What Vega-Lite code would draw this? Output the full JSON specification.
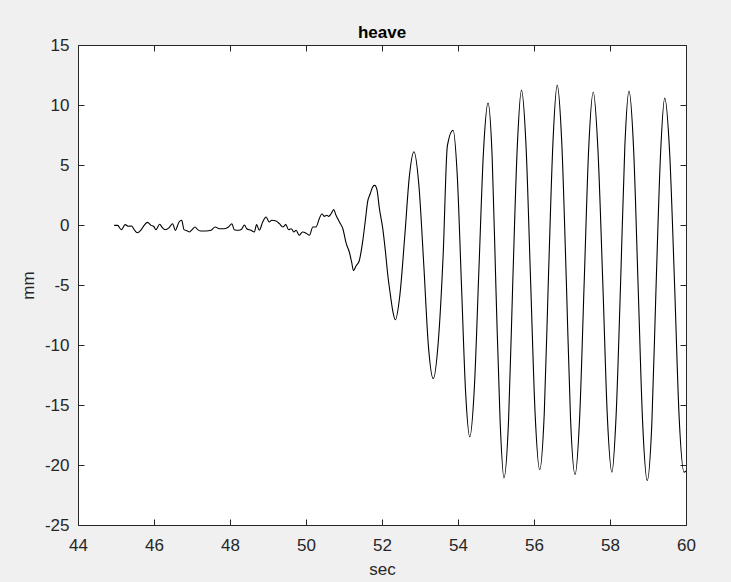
{
  "$schema": "https://vega.github.io/schema/vega-lite/v6.json",
  "width": 608,
  "height": 480,
  "autosize": {"type": "none"},
  "padding": {"left": 78, "top": 45, "right": 45, "bottom": 57},
  "background": "#f0f0f0",
  "title": {"text": "heave", "font": "Liberation Sans", "fontSize": 17, "fontWeight": "bold", "color": "#000000", "anchor": "middle", "offset": -6},
  "config": {
    "view": {"fill": "white", "stroke": "#262626", "strokeWidth": 1},
    "axis": {"labelFont": "Liberation Sans", "labelFontSize": 17, "labelColor": "#262626", "labelFlush": false, "labelOverlap": false, "titleFont": "Liberation Sans", "titleFontSize": 17, "titleFontWeight": "normal", "titleColor": "#262626", "tickColor": "#262626", "domainColor": "#262626", "grid": false, "tickSize": -6, "domain": false}
  },
  "data": {"values": [
    {"t": 44.95, "v": -0.03}, {"t": 45.04, "v": -0.03}, {"t": 45.14, "v": -0.39}, {"t": 45.24, "v": 0.03}, {"t": 45.33, "v": -0.11}, {"t": 45.41, "v": -0.08}, {"t": 45.48, "v": -0.39}, {"t": 45.56, "v": -0.64}, {"t": 45.65, "v": -0.44}, {"t": 45.74, "v": -0.03}, {"t": 45.83, "v": 0.22}, {"t": 45.92, "v": -0.03}, {"t": 45.99, "v": -0.11}, {"t": 46.05, "v": -0.39}, {"t": 46.15, "v": 0.06}, {"t": 46.22, "v": -0.22}, {"t": 46.29, "v": -0.39}, {"t": 46.40, "v": -0.22}, {"t": 46.49, "v": 0.11}, {"t": 46.56, "v": -0.44}, {"t": 46.66, "v": 0.25}, {"t": 46.73, "v": 0.39}, {"t": 46.79, "v": -0.39}, {"t": 46.88, "v": -0.5}, {"t": 46.93, "v": -0.58}, {"t": 47.01, "v": -0.36}, {"t": 47.08, "v": -0.17}, {"t": 47.15, "v": -0.39}, {"t": 47.22, "v": -0.5}, {"t": 47.37, "v": -0.5}, {"t": 47.50, "v": -0.44}, {"t": 47.61, "v": -0.17}, {"t": 47.72, "v": -0.31}, {"t": 47.85, "v": -0.31}, {"t": 47.96, "v": -0.17}, {"t": 48.05, "v": 0.11}, {"t": 48.11, "v": -0.39}, {"t": 48.23, "v": -0.44}, {"t": 48.31, "v": -0.33}, {"t": 48.38, "v": 0.0}, {"t": 48.44, "v": -0.31}, {"t": 48.55, "v": -0.44}, {"t": 48.64, "v": -0.58}, {"t": 48.70, "v": 0.03}, {"t": 48.77, "v": -0.44}, {"t": 48.86, "v": 0.25}, {"t": 48.95, "v": 0.67}, {"t": 49.03, "v": 0.25}, {"t": 49.10, "v": 0.39}, {"t": 49.21, "v": 0.33}, {"t": 49.30, "v": 0.11}, {"t": 49.39, "v": -0.17}, {"t": 49.47, "v": 0.03}, {"t": 49.54, "v": -0.39}, {"t": 49.61, "v": -0.31}, {"t": 49.68, "v": -0.58}, {"t": 49.74, "v": -0.44}, {"t": 49.82, "v": -0.86}, {"t": 49.91, "v": -0.58}, {"t": 50.02, "v": -0.72}, {"t": 50.09, "v": -0.86}, {"t": 50.18, "v": -0.17}, {"t": 50.26, "v": -0.17}, {"t": 50.35, "v": 0.53}, {"t": 50.42, "v": 0.94}, {"t": 50.48, "v": 0.72}, {"t": 50.55, "v": 0.81}, {"t": 50.60, "v": 0.72}, {"t": 50.66, "v": 0.94}, {"t": 50.73, "v": 1.28}, {"t": 50.79, "v": 0.81}, {"t": 50.88, "v": 0.25}, {"t": 50.97, "v": -0.31}, {"t": 51.06, "v": -1.56}, {"t": 51.14, "v": -2.25}, {"t": 51.20, "v": -3.08}, {"t": 51.25, "v": -3.8},
    {"t": 51.32, "v": -3.4}, {"t": 51.40, "v": -3.0}, {"t": 51.49, "v": -1.4}, {"t": 51.57, "v": 0.6}, {"t": 51.62, "v": 1.9}, {"t": 51.69, "v": 2.6}, {"t": 51.76, "v": 3.2}, {"t": 51.81, "v": 3.3}, {"t": 51.87, "v": 2.9}, {"t": 51.93, "v": 1.4}, {"t": 52.02, "v": -0.3}, {"t": 52.09, "v": -2.2}, {"t": 52.15, "v": -4.1}, {"t": 52.22, "v": -5.8}, {"t": 52.28, "v": -7.1}, {"t": 52.35, "v": -7.9},
    {"t": 52.47, "v": -5.85}, {"t": 52.60, "v": -0.9}, {"t": 52.72, "v": 4.05}, {"t": 52.84, "v": 6.1},
    {"t": 52.97, "v": 3.33}, {"t": 53.10, "v": -3.35}, {"t": 53.22, "v": -10.03}, {"t": 53.35, "v": -12.8},
    {"t": 53.48, "v": -9.77}, {"t": 53.61, "v": -2.45}, {"t": 53.72, "v": 6.6}, {"t": 53.87, "v": 7.9},
    {"t": 53.98, "v": 4.16}, {"t": 54.09, "v": -4.88}, {"t": 54.20, "v": -13.91}, {"t": 54.31, "v": -17.65},
    {"t": 54.43, "v": -13.58}, {"t": 54.55, "v": -3.75}, {"t": 54.67, "v": 6.09}, {"t": 54.79, "v": 10.16},
    {"t": 54.90, "v": 5.59}, {"t": 55.00, "v": -5.46}, {"t": 55.11, "v": -16.5}, {"t": 55.21, "v": -21.07},
    {"t": 55.33, "v": -16.34}, {"t": 55.44, "v": -4.92}, {"t": 55.56, "v": 6.51}, {"t": 55.67, "v": 11.24},
    {"t": 55.79, "v": 6.61}, {"t": 55.91, "v": -4.58}, {"t": 56.03, "v": -15.77}, {"t": 56.15, "v": -20.4},
    {"t": 56.27, "v": -15.71}, {"t": 56.38, "v": -4.37}, {"t": 56.50, "v": 6.97}, {"t": 56.61, "v": 11.66},
    {"t": 56.73, "v": 6.91}, {"t": 56.85, "v": -4.57}, {"t": 56.96, "v": -16.05}, {"t": 57.08, "v": -20.8},
    {"t": 57.20, "v": -16.13}, {"t": 57.32, "v": -4.86}, {"t": 57.44, "v": 6.41}, {"t": 57.56, "v": 11.08},
    {"t": 57.68, "v": 6.44}, {"t": 57.81, "v": -4.76}, {"t": 57.93, "v": -15.96}, {"t": 58.05, "v": -20.6},
    {"t": 58.16, "v": -15.95}, {"t": 58.28, "v": -4.72}, {"t": 58.39, "v": 6.51}, {"t": 58.50, "v": 11.16},
    {"t": 58.62, "v": 6.41}, {"t": 58.74, "v": -5.07}, {"t": 58.86, "v": -16.55}, {"t": 58.98, "v": -21.3},
    {"t": 59.10, "v": -16.63}, {"t": 59.21, "v": -5.37}, {"t": 59.33, "v": 5.9}, {"t": 59.44, "v": 10.57},
    {"t": 59.57, "v": 6.0}, {"t": 59.70, "v": -5.02}, {"t": 59.82, "v": -16.04}, {"t": 59.95, "v": -20.6}, {"t": 60.0, "v": -20.5}
  ]},
  "layer": [
    {
      "mark": {"type": "line", "color": "#000000", "strokeWidth": 1.1, "interpolate": "monotone", "clip": true},
      "encoding": {
        "x": {"field": "t", "type": "quantitative", "scale": {"domain": [44, 60], "nice": false, "zero": false}, "axis": {"orient": "bottom", "values": [44, 46, 48, 50, 52, 54, 56, 58, 60], "title": "sec", "labelPadding": 18, "titlePadding": 8}},
        "y": {"field": "v", "type": "quantitative", "scale": {"domain": [-25, 15], "nice": false, "zero": false}, "axis": {"orient": "left", "values": [-25, -20, -15, -10, -5, 0, 5, 10, 15], "title": "mm", "labelPadding": 15, "titlePadding": 7, "labelExpr": "replace(datum.label, '\u2212', '-')"}}
      }
    },
    {
      "mark": {"type": "line", "opacity": 0},
      "encoding": {
        "x": {"field": "t", "type": "quantitative", "axis": {"orient": "top", "values": [44, 46, 48, 50, 52, 54, 56, 58, 60], "labels": false, "title": null}},
        "y": {"field": "v", "type": "quantitative", "axis": {"orient": "right", "values": [-25, -20, -15, -10, -5, 0, 5, 10, 15], "labels": false, "title": null}}
      }
    }
  ],
  "resolve": {"axis": {"x": "independent", "y": "independent"}}
}
